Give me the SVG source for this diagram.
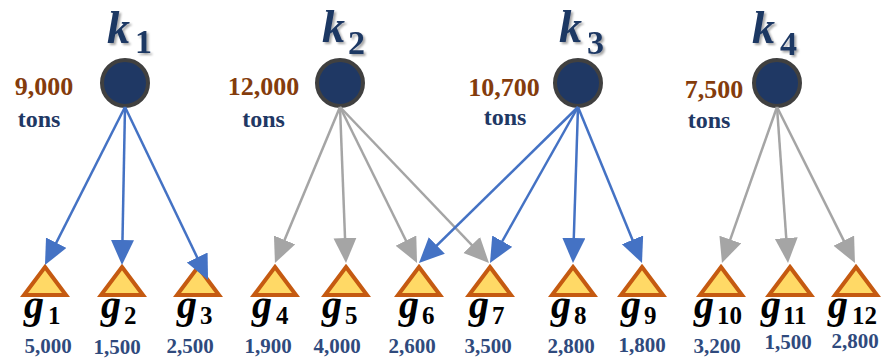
<svg xmlns="http://www.w3.org/2000/svg" width="883" height="360" viewBox="0 0 883 360">
<style>
.plant{fill:#1F3864;stroke:#404040;stroke-width:4}
.cust{fill:#FFD966;stroke:#C55A11;stroke-width:4;stroke-linejoin:miter}
.kl{font-family:"Liberation Serif",serif;font-weight:bold;fill:#1F3864;filter:url(#sh)}
.k{font-size:46px;font-style:italic}
.ks{font-size:34px}
.cap{font-family:"Liberation Serif",serif;font-weight:bold;font-size:26px;fill:#843C0C;text-anchor:middle}
.tons{font-family:"Liberation Serif",serif;font-weight:bold;font-size:24px;fill:#1F3864;text-anchor:middle}
.gl{font-family:"Liberation Serif",serif;font-weight:bold;fill:#000}
.g{font-size:40px;font-style:italic}
.gs{font-size:25px}
.dem{font-family:"Liberation Serif",serif;font-weight:bold;font-size:21px;fill:#2F4A7D;text-anchor:middle}
.blue{stroke:#4472C4;stroke-width:2.5;fill:none;marker-end:url(#ab)}
.gray{stroke:#A5A5A5;stroke-width:2.5;fill:none;marker-end:url(#ag)}
</style>
<defs>
<filter id="sh" x="-30%" y="-30%" width="170%" height="170%">
<feDropShadow dx="2" dy="2" stdDeviation="1.2" flood-color="#000" flood-opacity="0.35"/>
</filter>
<marker id="ab" markerUnits="userSpaceOnUse" markerWidth="26" markerHeight="24" refX="15" refY="11.5" orient="auto">
<path d="M0,0 L25,11.5 L0,23 z" fill="#4472C4"/>
</marker>
<marker id="ag" markerUnits="userSpaceOnUse" markerWidth="26" markerHeight="24" refX="15" refY="11.5" orient="auto">
<path d="M0,0 L25,11.5 L0,23 z" fill="#A5A5A5"/>
</marker>
</defs>
<rect width="883" height="360" fill="#fff"/>

<g id="k1">
<circle class="plant" cx="125" cy="83" r="23"/>
<text class="kl" y="43"><tspan class="k" x="107">k</tspan><tspan class="ks" x="135" y="53">1</tspan></text>
<text class="cap" x="44" y="95">9,000</text>
<text class="tons" x="39" y="127">tons</text>
</g>
<g id="k2">
<circle class="plant" cx="340" cy="83" r="23"/>
<text class="kl" y="42"><tspan class="k" x="322">k</tspan><tspan class="ks" x="348" y="54">2</tspan></text>
<text class="cap" x="263.5" y="95">12,000</text>
<text class="tons" x="263.5" y="127">tons</text>
</g>
<g id="k3">
<circle class="plant" cx="578" cy="83" r="23"/>
<text class="kl" y="42"><tspan class="k" x="559">k</tspan><tspan class="ks" x="587" y="54">3</tspan></text>
<text class="cap" x="504" y="96">10,700</text>
<text class="tons" x="505" y="125">tons</text>
</g>
<g id="k4">
<circle class="plant" cx="777" cy="83" r="23"/>
<text class="kl" y="43"><tspan class="k" x="752">k</tspan><tspan class="ks" x="780" y="55">4</tspan></text>
<text class="cap" x="714" y="98">7,500</text>
<text class="tons" x="709" y="128">tons</text>
</g>

<g id="g1"><path class="cust" d="M45,267 L66,295 L24,295 Z"/><text class="gl" y="318"><tspan class="g" x="24">g</tspan><tspan class="gs" x="48" y="324">1</tspan></text><text class="dem" x="48" y="353">5,000</text></g>
<g id="g2"><path class="cust" d="M122,267 L143,295 L101,295 Z"/><text class="gl" y="318"><tspan class="g" x="101">g</tspan><tspan class="gs" x="124" y="324">2</tspan></text><text class="dem" x="117" y="354">1,500</text></g>
<g id="g3"><path class="cust" d="M198,267 L219,295 L177,295 Z"/><text class="gl" y="318"><tspan class="g" x="177">g</tspan><tspan class="gs" x="200" y="324">3</tspan></text><text class="dem" x="190" y="353">2,500</text></g>
<g id="g4"><path class="cust" d="M275,267 L296,295 L254,295 Z"/><text class="gl" y="318"><tspan class="g" x="252">g</tspan><tspan class="gs" x="276" y="324">4</tspan></text><text class="dem" x="268" y="353">1,900</text></g>
<g id="g5"><path class="cust" d="M346,267 L367,295 L325,295 Z"/><text class="gl" y="318"><tspan class="g" x="322">g</tspan><tspan class="gs" x="345" y="324">5</tspan></text><text class="dem" x="337" y="353">4,000</text></g>
<g id="g6"><path class="cust" d="M419,267 L440,295 L398,295 Z"/><text class="gl" y="318"><tspan class="g" x="399">g</tspan><tspan class="gs" x="422" y="324">6</tspan></text><text class="dem" x="412" y="353">2,600</text></g>
<g id="g7"><path class="cust" d="M490,267 L511,295 L469,295 Z"/><text class="gl" y="318"><tspan class="g" x="469">g</tspan><tspan class="gs" x="492" y="324">7</tspan></text><text class="dem" x="488" y="353">3,500</text></g>
<g id="g8"><path class="cust" d="M573,267 L594,295 L552,295 Z"/><text class="gl" y="318"><tspan class="g" x="551">g</tspan><tspan class="gs" x="574" y="324">8</tspan></text><text class="dem" x="571" y="353">2,800</text></g>
<g id="g9"><path class="cust" d="M642,267 L663,295 L621,295 Z"/><text class="gl" y="318"><tspan class="g" x="621">g</tspan><tspan class="gs" x="644" y="324">9</tspan></text><text class="dem" x="642" y="352">1,800</text></g>
<g id="g10"><path class="cust" d="M721,267 L742,295 L700,295 Z"/><text class="gl" y="318"><tspan class="g" x="694">g</tspan><tspan class="gs" x="717" y="324">10</tspan></text><text class="dem" x="717" y="353">3,200</text></g>
<g id="g11"><path class="cust" d="M790,267 L811,295 L769,295 Z"/><text class="gl" y="318"><tspan class="g" x="761">g</tspan><tspan class="gs" x="783" y="324">11</tspan></text><text class="dem" x="788" y="349">1,500</text></g>
<g id="g12"><path class="cust" d="M856,267 L877,295 L835,295 Z"/><text class="gl" y="318"><tspan class="g" x="828">g</tspan><tspan class="gs" x="852" y="324">12</tspan></text><text class="dem" x="855" y="348">2,800</text></g>

<g id="connectors">
<line class="gray" x1="340" y1="107" x2="278.8" y2="253.8"/>
<line class="gray" x1="340" y1="107" x2="345.6" y2="253.0"/>
<line class="gray" x1="340" y1="107" x2="412.6" y2="254.0"/>
<line class="gray" x1="340" y1="107" x2="482.1" y2="255.8"/>
<line class="gray" x1="777" y1="107" x2="725.3" y2="253.6"/>
<line class="gray" x1="777" y1="107" x2="787.3" y2="253.0"/>
<line class="gray" x1="777" y1="107" x2="850.5" y2="254.1"/>
<line class="blue" x1="125" y1="107" x2="49.5" y2="256.1"/>
<line class="blue" x1="125" y1="107" x2="122.2" y2="255.0"/>
<line class="blue" x1="125" y1="107" x2="203.7" y2="271.0"/>
<line class="blue" x1="578" y1="107" x2="426.1" y2="256.0"/>
<line class="blue" x1="578" y1="107" x2="494.9" y2="254.3"/>
<line class="blue" x1="578" y1="107" x2="573.3" y2="253.0"/>
<line class="blue" x1="578" y1="107" x2="638.2" y2="253.7"/>
</g>
</svg>
